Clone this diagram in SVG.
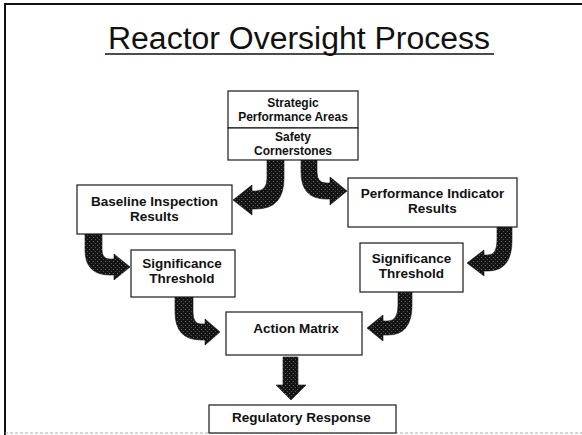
<svg xmlns="http://www.w3.org/2000/svg" width="582" height="435" viewBox="0 0 582 435">
<style>
.box{fill:#fff;stroke:#1a1a1a;stroke-width:1.2}
.lbl{font-family:"Liberation Sans",Arial,sans-serif;font-weight:bold;font-size:13.5px;fill:#111;text-anchor:middle}
.sm{font-size:12px}
.arrow{fill:url(#stip);stroke:#111;stroke-width:0.6}
</style>
<defs>
<pattern id="stip" width="4" height="4" patternUnits="userSpaceOnUse">
<rect width="4" height="4" fill="#141414"/>
<rect x="1" y="1" width="1" height="1" fill="#6a6a6a"/>
<rect x="3" y="3" width="1" height="1" fill="#505050"/>
</pattern>
</defs>
<rect width="582" height="435" fill="#fff"/>
<g id="frame">
<line x1="5" y1="4" x2="5" y2="435" stroke="#111" stroke-width="2"/>
<line x1="4" y1="4" x2="582" y2="4" stroke="#111" stroke-width="2"/>
<line x1="5" y1="433" x2="582" y2="433" stroke="#aaa" stroke-width="1" stroke-dasharray="3 2"/>
</g>
<g id="title">
<text x="108" y="49" font-family="'Liberation Sans',Arial,sans-serif" font-size="31" fill="#111" textLength="382" lengthAdjust="spacingAndGlyphs">Reactor Oversight Process</text>
<line x1="105" y1="54" x2="494" y2="54" stroke="#111" stroke-width="1.5"/>
</g>
<g id="connectors">
<path class="arrow" d="M267,160 L284,160 L284,178 Q284,209 256,209 L252,209 L252,215 L233,200 L252,185 L252,191 L256,191 Q267,191 267,178 Z"/>
<path class="arrow" d="M301,160 L317,160 L317,172 Q317,183 326,183 L330,183 L330,177 L347,191 L330,205 L330,199 L326,199 Q301,199 301,172 Z"/>
<path class="arrow" d="M85,234 L102,234 L102,250 Q102,259 110,259 L114,259 L114,254 L130,267 L114,280 L114,275 L110,275 Q85,275 85,250 Z"/>
<path class="arrow" d="M497,227 L512,227 L512,240 Q512,271 488,271 L484,271 L484,276 L467,263 L484,250 L484,255 L488,255 Q497,255 497,240 Z"/>
<path class="arrow" d="M175,297 L193,297 L193,312 Q193,324 201,324 L205,324 L205,319 L220,332 L205,345 L205,340 L201,340 Q175,340 175,312 Z"/>
<path class="arrow" d="M398,292 L412,292 L412,305 Q412,335 388,335 L383,335 L383,341 L367,328 L383,315 L383,321 L388,321 Q398,321 398,305 Z"/>
<path class="arrow" d="M283,357 L298,357 L298,385 L306,385 L291,400 L276,385 L283,385 Z"/>
</g>
<g id="strategic">
<rect class="box" x="228" y="91" width="130" height="37"/>
<text class="lbl sm" x="293" y="107">Strategic</text>
<text class="lbl sm" x="293" y="120.5">Performance Areas</text>
</g>
<g id="safety">
<rect class="box" x="228" y="128" width="130" height="32"/>
<text class="lbl sm" x="293" y="141">Safety</text>
<text class="lbl sm" x="293" y="155">Cornerstones</text>
</g>
<g id="baseline">
<rect class="box" x="77" y="185" width="155" height="49"/>
<text class="lbl" x="154.5" y="206">Baseline Inspection</text>
<text class="lbl" x="154.5" y="221">Results</text>
</g>
<g id="perf">
<rect class="box" x="348" y="178" width="169" height="49"/>
<text class="lbl" x="432.5" y="198">Performance Indicator</text>
<text class="lbl" x="432.5" y="213">Results</text>
</g>
<g id="sig-left">
<rect class="box" x="131" y="250" width="104" height="47"/>
<text class="lbl" x="182" y="268">Significance</text>
<text class="lbl" x="182" y="283">Threshold</text>
</g>
<g id="sig-right">
<rect class="box" x="360" y="243" width="103" height="49"/>
<text class="lbl" x="411.5" y="263">Significance</text>
<text class="lbl" x="411.5" y="278">Threshold</text>
</g>
<g id="action">
<rect class="box" x="226" y="312" width="136" height="43"/>
<text class="lbl" x="296" y="333">Action Matrix</text>
</g>
<g id="regulatory">
<rect class="box" x="209" y="405" width="187" height="28"/>
<text class="lbl" x="301.5" y="422">Regulatory Response</text>
</g>
</svg>
